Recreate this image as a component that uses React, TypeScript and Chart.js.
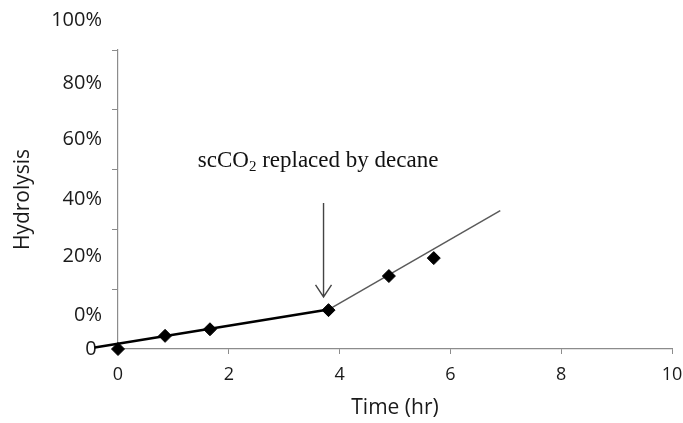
import React, { useEffect, useRef } from "react";
import { Chart, registerables } from "chart.js";

Chart.register(...registerables);

// ---- data ----
const timeHr = [0, 0.85, 1.66, 3.8, 4.89, 5.7];
const hydrolysis = [0, 4.4, 6.6, 13.0, 24.4, 30.4];

const trend1X = [-0.42, 3.8];
const trend1Y = [0.5, 13.2];
const trend2X = [3.8, 6.9];
const trend2Y = [13.2, 46.3];

const xTickValues = [0, 2, 4, 6, 8, 10];
const yMarkValues = [0, 20, 40, 60, 80, 100];
const yLabelValues = [0, 11.4, 31, 50, 70, 89, 110];
const yTickLabels = ["0 ", "0%", "20%", "40%", "60%", "80%", "100%"];

const arrowX = 3.71;
const arrowTopY = 48.8;
const arrowTipY = 17.4;
const noteX = 1.44;
const noteY = 60.9;
const noteMain = "scCO";
const noteSub = "2";
const noteRest = " replaced by decane";

const AXIS_GRAY = "#8c8c8c";
const TEXT = "#1a1a1a";

const annotationPlugin = {
  id: "annot",
  afterDatasetsDraw(chart: any) {
    const { ctx, scales } = chart;
    const xs = scales.x;
    const ys = scales.y;
    ctx.save();
    // arrow
    const ax = xs.getPixelForValue(arrowX);
    const at = ys.getPixelForValue(arrowTopY);
    const ab = ys.getPixelForValue(arrowTipY);
    ctx.strokeStyle = "#444";
    ctx.lineWidth = 1.4;
    ctx.beginPath();
    ctx.moveTo(ax, at);
    ctx.lineTo(ax, ab);
    ctx.moveTo(ax - 8, ab - 12);
    ctx.lineTo(ax, ab);
    ctx.lineTo(ax + 8, ab - 12);
    ctx.stroke();
    // note text
    const tx = xs.getPixelForValue(noteX);
    const ty = ys.getPixelForValue(noteY);
    ctx.fillStyle = "#111";
    ctx.textBaseline = "alphabetic";
    ctx.textAlign = "left";
    ctx.font = "23px 'Liberation Serif', 'Times New Roman', serif";
    ctx.fillText(noteMain, tx, ty);
    let w = ctx.measureText(noteMain).width;
    ctx.font = "15px 'Liberation Serif', 'Times New Roman', serif";
    ctx.fillText(noteSub, tx + w, ty + 4);
    w += ctx.measureText(noteSub).width;
    ctx.font = "23px 'Liberation Serif', 'Times New Roman', serif";
    ctx.fillText(noteRest, tx + w, ty);
    ctx.restore();
  },
};

export default function App() {
  const ref = useRef<HTMLCanvasElement | null>(null);
  useEffect(() => {
    if (!ref.current) return;
    const chart = new Chart(ref.current, {
      type: "scatter",
      data: {
        datasets: [
          {
            label: "points",
            data: timeHr.map((x, i) => ({ x, y: hydrolysis[i] })),
            pointStyle: "rectRot",
            pointRadius: 6.5,
            backgroundColor: "#000",
            borderColor: "#000",
            borderWidth: 1,
            showLine: false,
            clip: false as any,
          },
          {
            label: "trend1",
            data: trend1X.map((x, i) => ({ x, y: trend1Y[i] })),
            showLine: true,
            borderColor: "#000",
            borderWidth: 2.5,
            pointRadius: 0,
            clip: false as any,
          },
          {
            label: "trend2",
            data: trend2X.map((x, i) => ({ x, y: trend2Y[i] })),
            showLine: true,
            borderColor: "#5a5a5a",
            borderWidth: 1.5,
            pointRadius: 0,
            clip: false as any,
          },
        ],
      },
      options: {
        animation: false,
        responsive: false,
        devicePixelRatio: 1,
        layout: { padding: { top: 50, right: 11, left: 0, bottom: 0 } },
        plugins: {
          legend: { display: false },
          tooltip: { enabled: false },
        },
        scales: {
          x: {
            type: "linear",
            min: 0,
            max: 10,
            afterFit: (s: any) => {
              s.height = 74;
              s.paddingLeft = 0;
              s.paddingRight = 0;
            },
            afterBuildTicks: (s: any) => {
              s.ticks = xTickValues.map((v) => ({ value: v }));
            },
            border: { display: true, color: AXIS_GRAY, width: 1.2 },
            grid: {
              drawOnChartArea: false,
              drawTicks: true,
              tickLength: 5,
              tickColor: AXIS_GRAY,
            },
            ticks: {
              autoSkip: false,
              maxRotation: 0,
              padding: 10,
              color: TEXT,
              font: { family: "'Open Sans', sans-serif", size: 18 },
              callback: (v: any) => String(v),
            },
            title: {
              display: true,
              text: "Time (hr)",
              color: TEXT,
              font: { family: "'Open Sans', sans-serif", size: 21 },
              padding: { top: 0, bottom: 2 },
            },
          },
          y: {
            type: "linear",
            min: 0,
            max: 100,
            afterFit: (s: any) => {
              s.width = 118;
              s.paddingTop = 0;
              s.paddingBottom = 0;
            },
            afterBuildTicks: (s: any) => {
              const vals = Array.from(new Set([...yMarkValues, ...yLabelValues])).sort(
                (a, b) => a - b
              );
              s.ticks = vals.map((v) => ({ value: v }));
            },
            border: { display: true, color: AXIS_GRAY, width: 1.2 },
            grid: {
              drawOnChartArea: false,
              drawTicks: true,
              tickLength: 6,
              tickColor: (c: any) =>
                c.tick && yMarkValues.includes(c.tick.value) && c.tick.value > 0
                  ? AXIS_GRAY
                  : "rgba(0,0,0,0)",
            },
            ticks: {
              autoSkip: false,
              padding: 10,
              color: TEXT,
              font: { family: "'Open Sans', sans-serif", size: 20 },
              callback: (v: any) => {
                const i = yLabelValues.indexOf(Number(v));
                return i >= 0 ? yTickLabels[i] : "";
              },
            },
            title: {
              display: true,
              text: "Hydrolysis",
              color: TEXT,
              font: { family: "'Open Sans', sans-serif", size: 21 },
              padding: { top: 10, bottom: 0 },
            },
          },
        },
      },
      plugins: [annotationPlugin],
    });
    return () => chart.destroy();
  }, []);
  return (
    <div style={{ position: "fixed", left: 0, top: 0, width: 683, height: 423, background: "#fff" }}>
      <canvas ref={ref} width={683} height={423} />
    </div>
  );
}
